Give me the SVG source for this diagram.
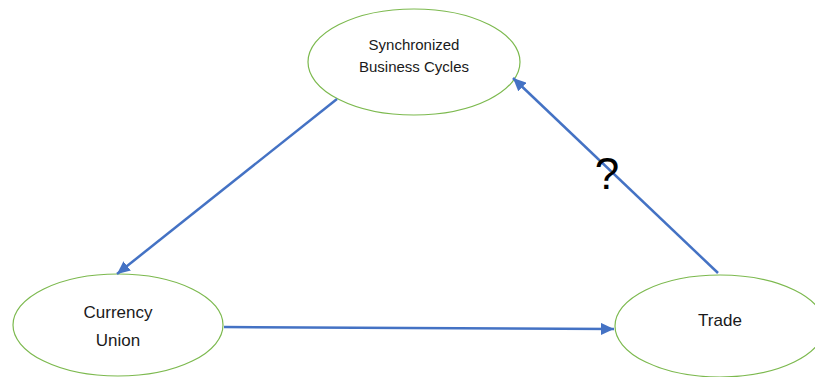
<svg xmlns="http://www.w3.org/2000/svg" width="815" height="377" viewBox="0 0 815 377">
<style>
.node ellipse{fill:#fff;stroke:#7CB94E;stroke-width:1.2}
.lbl{font-family:"Liberation Sans",Arial,sans-serif;fill:#1a1a1a;text-anchor:middle}
.edge{stroke:#4472C4;stroke-width:2.5;fill:none;marker-end:url(#ah)}
</style>
<defs>
<marker id="ah" markerUnits="userSpaceOnUse" markerWidth="14" markerHeight="12" refX="13" refY="6" orient="auto">
<path d="M0,0 L13,6 L0,12 Z" fill="#4472C4"/>
</marker>
</defs>
<rect width="815" height="377" fill="#fff"/>
<g id="node-sync" class="node">
<ellipse cx="414" cy="62" rx="106" ry="53"/>
<text class="lbl" x="414" y="50" font-size="15">Synchronized</text>
<text class="lbl" x="414" y="72" font-size="15">Business Cycles</text>
</g>
<g id="node-currency" class="node">
<ellipse cx="118" cy="325" rx="105" ry="51"/>
<text class="lbl" x="118" y="318" font-size="17">Currency</text>
<text class="lbl" x="118" y="346" font-size="17">Union</text>
</g>
<g id="node-trade" class="node">
<ellipse cx="720" cy="326" rx="105" ry="51"/>
<text class="lbl" x="720" y="326" font-size="17">Trade</text>
</g>
<g id="connectors">
<line class="edge" x1="337" y1="99" x2="117" y2="274"/>
<line class="edge" x1="224" y1="327" x2="614" y2="329"/>
<line class="edge" x1="718" y1="273" x2="513" y2="78"/>
<text class="lbl" x="607" y="189" font-size="44" style="fill:#000">?</text>
</g>
</svg>
